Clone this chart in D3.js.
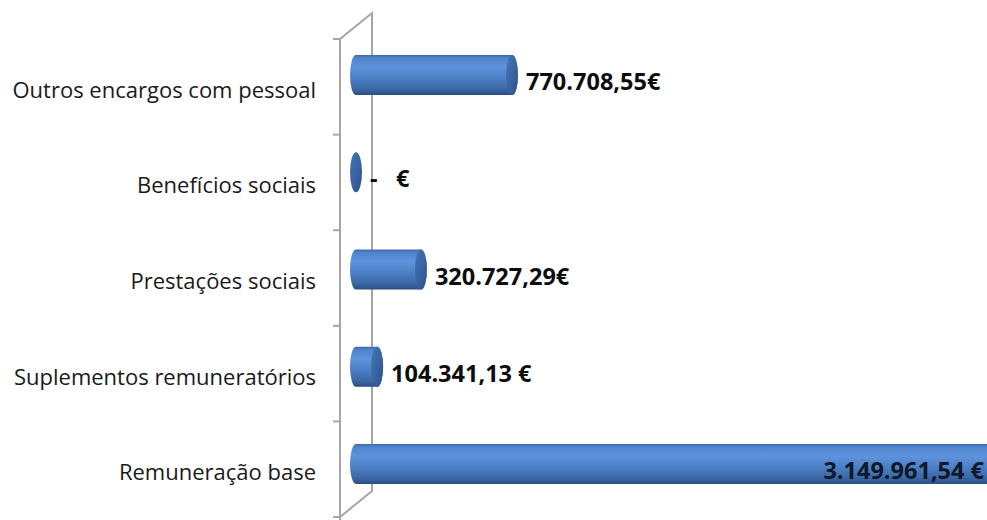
<!DOCTYPE html>
<html>
<head>
<meta charset="utf-8">
<script src="https://cdn.jsdelivr.net/npm/d3@7/dist/d3.min.js"></script>
<style>
  html, body { margin: 0; padding: 0; background: #fff; }
  svg { display: block; }
</style>
</head>
<body>
<svg id="chart" width="987" height="520"></svg>
<script>
// Despesas com pessoal, por rubrica (euros)
const categories = [
  "Outros encargos com pessoal",
  "Benefícios sociais",
  "Prestações sociais",
  "Suplementos remuneratórios",
  "Remuneração base"
];
const values = [770708.55, 0, 320727.29, 104341.13, 3149961.54];
const valueLabels = ["770.708,55€", "-   €", "320.727,29€", "104.341,13 €", "3.149.961,54 €"];

const W = 987, H = 520;
const svg = d3.select("#chart");

// 3D wall: front plane and back plane offset
const frontX = 340, depthX = 32, depthY = -26;
const frontTop = 39, frontBottom = 517;

// category bands on the front edge of the wall (labels, ticks)
const y = d3.scaleBand().domain(categories).range([frontTop, frontBottom]).padding(0);
// bands at mid-depth, where the cylinders sit
const yBar = d3.scaleBand().domain(categories).range([26.4, 512.6]).padding(0);
const x = d3.scaleLinear().domain([0, 3500000]).range([frontX + depthX / 2, frontX + depthX / 2 + 708.5]);

const defs = svg.append("defs");
const body = defs.append("linearGradient").attr("id", "cylBody")
  .attr("x1", 0).attr("y1", 0).attr("x2", 0).attr("y2", 1);
[[0, "#3e6aab"], [0.08, "#5084cb"], [0.3, "#5e93de"], [0.55, "#4e82c8"], [0.85, "#3b67a6"], [1, "#2b4d82"]]
  .forEach(([o, c]) => body.append("stop").attr("offset", o).attr("stop-color", c));
const cap = defs.append("linearGradient").attr("id", "cylCap")
  .attr("x1", 0).attr("y1", 0).attr("x2", 1).attr("y2", 1);
[[0, "#4674b5"], [0.5, "#3a65a3"], [1, "#2c5087"]]
  .forEach(([o, c]) => cap.append("stop").attr("offset", o).attr("stop-color", c));

// wall lines
const wall = svg.append("g").attr("stroke", "#a6a6a6").attr("stroke-width", 2).attr("fill", "none");
wall.append("path").attr("d",
  `M${frontX},${frontBottom + 10}L${frontX},${frontTop}L${frontX + depthX},${frontTop + depthY}` +
  `L${frontX + depthX},${frontBottom + depthY}L${frontX},${frontBottom}`);
// ticks on the front edge
wall.selectAll("line.tick")
  .data(categories.map(c => y(c)).concat([frontBottom]))
  .join("line").attr("class", "tick")
  .attr("x1", frontX - 7).attr("x2", frontX)
  .attr("y1", d => d).attr("y2", d => d);

// category labels
svg.append("g").selectAll("text")
  .data(categories)
  .join("text")
  .attr("x", 316)
  .attr("y", d => y(d) + y.bandwidth() / 2 + 2)
  .attr("text-anchor", "end")
  .attr("dominant-baseline", "central")
  .attr("font-family", "'Open Sans', sans-serif")
  .attr("font-size", 22)
  .attr("fill", "#1a1a1a")
  .text(d => d);

// cylinders
const rx = 6, ry = 20;
const bars = svg.append("g");
const rows = categories.map((c, i) => ({
  c, v: values[i], label: valueLabels[i],
  cy: yBar(c) + yBar.bandwidth() / 2,
  x0: x(0), x1: x(values[i])
}));
rows.forEach(r => {
  const g = bars.append("g");
  if (r.v > 0) {
    g.append("path")
      .attr("d", `M${r.x0},${r.cy - ry}L${r.x1},${r.cy - ry}A${rx},${ry} 0 0 1 ${r.x1},${r.cy + ry}` +
        `L${r.x0},${r.cy + ry}A${rx},${ry} 0 0 1 ${r.x0},${r.cy - ry}Z`)
      .attr("fill", "url(#cylBody)");
  }
  g.append("ellipse")
    .attr("cx", r.x1).attr("cy", r.cy).attr("rx", rx).attr("ry", ry)
    .attr("fill", "url(#cylCap)");
});

// value labels
svg.append("g").selectAll("text")
  .data(rows)
  .join("text")
  .attr("x", d => Math.min(d.x1 + rx + 8, W))
  .attr("y", d => d.cy + 6)
  .attr("text-anchor", "start")
  .attr("dominant-baseline", "central")
  .attr("font-family", "'Open Sans', sans-serif")
  .attr("font-weight", "bold")
  .attr("font-size", 23.5)
  .attr("fill", "#0d0d0d")
  .style("white-space", "pre")
  .text(d => d.label)
  .each(function (d) {
    const w = this.getComputedTextLength();
    if (d.x1 + rx + 8 + w > W) {
      d3.select(this).attr("x", W - 3).attr("text-anchor", "end").attr("fill", "#10182a");
    }
  });
</script>
</body>
</html>
